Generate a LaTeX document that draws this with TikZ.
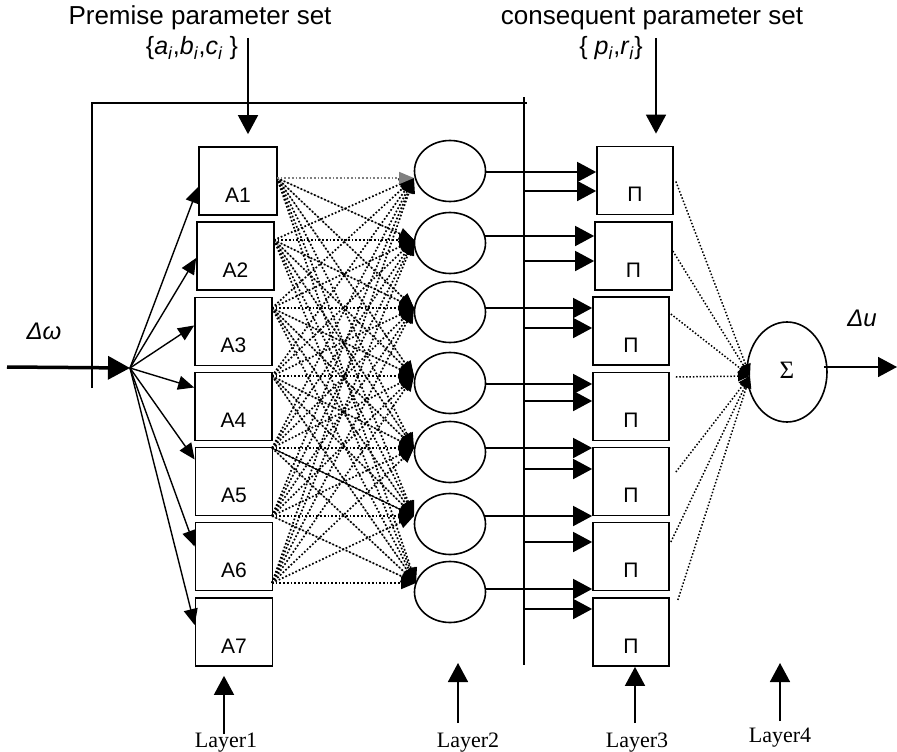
\documentclass[tikz,border=0pt]{standalone}
\usepackage{fontspec}
\setmainfont{Liberation Sans}
\newfontfamily\seriffont{Liberation Serif}
\usetikzlibrary{arrows.meta,shapes.geometric,calc}
\begin{document}
\begin{tikzpicture}[x=1pt,y=-1pt,
  box/.style={draw,line width=1.7pt,inner sep=0pt,minimum width=77pt,minimum height=68pt,
    text height=55pt,text depth=13pt,font=\fontsize{21}{21}\selectfont},
  ell/.style={draw,ellipse,line width=1.6pt,inner sep=0pt,minimum width=71pt,minimum height=61pt},
  bus/.style={line width=1.5pt},
  bigarrow/.style={line width=1.6pt,-{Triangle[length=19pt,width=20pt]}},
  fanarrow/.style={line width=1.4pt,-{Triangle[length=16pt,width=14pt]}},
  dotc/.style={line width=1.7pt,dash pattern=on 1.7pt off 2pt,-{Triangle[length=15pt,width=12pt]}},
  greyc/.style={line width=0.7pt,gray!65,-{Triangle[length=13pt,width=10pt,color=black]}},
  sumc/.style={line width=1.5pt,dash pattern=on 1.5pt off 1.9pt,-{Triangle[length=12pt,width=10pt]}},
  bigtext/.style={font=\fontsize{26}{26}\selectfont,anchor=base},
  settext/.style={font=\fontsize{25}{25}\selectfont,anchor=base},
  layertext/.style={font=\seriffont\fontsize{22}{22}\selectfont,anchor=base},
  greektext/.style={font=\fontsize{24}{24}\selectfont\itshape,anchor=base}
]
\useasboundingbox (0,0) rectangle (897,752);

% ---- texts at top
\node[bigtext] (prem) at (200,25) {Premise parameter set};
\node[settext] (premset) at (192,55) {\{\textit{a}\textsubscript{\textit{i}},\textit{b}\textsubscript{\textit{i}},\textit{c}\textsubscript{\textit{i}} \}};
\node[bigtext] (cons) at (652,25) {consequent parameter set};
\node[settext] (consset) at (611,55) {\{ \textit{p}\textsubscript{\textit{i}},\textit{r}\textsubscript{\textit{i}}\}};

% ---- layer 1 boxes
\node[box,minimum width=78pt] (A1) at (238,181) {A1\hspace{8pt}};
\node[box] (A2) at (235.5,256) {A2\hspace{8pt}};
\node[box] (A3) at (233.5,331.5) {A3\hspace{8pt}};
\node[box] (A4) at (233.5,406.5) {A4\hspace{8pt}};
\node[box] (A5) at (234,481.5) {A5\hspace{8pt}};
\node[box] (A6) at (234,556.5) {A6\hspace{8pt}};
\node[box] (A7) at (234,632) {A7\hspace{8pt}};

% ---- layer 2 ellipses
\node[ell] (E1) at (450,171) {};
\node[ell] (E2) at (450,243) {};
\node[ell] (E3) at (450,312) {};
\node[ell] (E4) at (450,383) {};
\node[ell] (E5) at (450,452) {};
\node[ell] (E6) at (450,524) {};
\node[ell] (E7) at (450,592) {};

% ---- layer 3 boxes
\node[box,minimum width=76pt] (P1) at (635,180.5) {Π\hspace{20pt}};
\node[box] (P2) at (633.5,256) {Π\hspace{20pt}};
\node[box,minimum width=76pt] (P3) at (631,331) {Π\hspace{20pt}};
\node[box,minimum width=76pt] (P4) at (631,406.5) {Π\hspace{20pt}};
\node[box,minimum width=76pt] (P5) at (631,481.5) {Π\hspace{20pt}};
\node[box,minimum width=76pt] (P6) at (631,556.5) {Π\hspace{20pt}};
\node[box,minimum width=76pt] (P7) at (631,632) {Π\hspace{20pt}};

% ---- layer 4
\node[draw,ellipse,line width=1.6pt,inner sep=0pt,minimum width=80pt,minimum height=100pt,
  font=\seriffont\fontsize{25}{25}\selectfont] (S) at (787,372) {\raisebox{4pt}{Σ}};

% ---- parameter arrows
\coordinate (premtail) at (248,38);
\coordinate (constail) at (656,38);
\draw[bigarrow] (premtail) -- ($(A1.north)+(10,-12)$);
\draw[bigarrow] (constail) -- ($(P1.north)+(21,-12)$);

% ---- bus lines
\coordinate (tl) at (92,103);
\coordinate (tr) at (527,103);
\coordinate (lb) at (92,388);
\coordinate (bt) at (524,97);
\coordinate (bb) at (524,665);
\draw[bus] (lb) -- (tl) -- (tr);
\draw[bus] (bt) -- (bb);

% ---- input
\coordinate (inp) at (7,367);
\coordinate (fan) at (130,368);
\node[greektext] (dw) at (44,339) {Δω};
\draw[line width=3.5pt,-{Triangle[length=22pt,width=23pt]}] (inp) -- (fan);
\draw[fanarrow] (fan) -- ($(A1.west)+(0,6)$);
\draw[fanarrow] (fan) -- ($(A2.west)+(0,2)$);
\draw[fanarrow] (fan) -- ($(A3.west)+(0,-6)$);
\draw[fanarrow] (fan) -- ($(A4.west)+(0,-19)$);
\draw[fanarrow] (fan) -- ($(A5.west)+(0,-22)$);
\draw[fanarrow] (fan) -- ($(A6.west)+(0,-10)$);
\draw[fanarrow] (fan) -- ($(A7.west)+(0,-7)$);

% ---- layer1 -> layer2 network
\coordinate (s1) at (277,178);
\coordinate (s2) at (274,240);
\coordinate (s3) at (272,308);
\coordinate (s4) at (272,376);
\coordinate (s5) at (272,448);
\coordinate (s6) at (272,516);
\coordinate (s7) at (272,583);
\coordinate (r1) at (414,178);
\coordinate (r2) at (414,240);
\coordinate (r3) at (414,308);
\coordinate (r4) at (414,376);
\coordinate (r5) at (414,448);
\coordinate (r6) at (414,516);
\coordinate (r7) at (416,583);
\foreach \i/\j in {1/2,1/3,1/4,2/3,2/4,2/5,3/4,3/5,3/6,4/5,4/6,4/7,5/7,6/7}{
  \draw[greyc] (s\i) -- (r\j);
}
\foreach \i in {1,...,7}{
  \foreach \j in {1,...,7}{
    \ifnum\i=\j\relax\else\draw[dotc] (s\i) -- (r\j);\fi
  }
}
\draw[dotc,gray] (s1) -- (r1);
\foreach \i in {2,...,7}{\draw[dotc] (s\i) -- (r\i);}
\coordinate (a5c) at (272,448);
\draw[line width=1pt,-{Triangle[length=13pt,width=11pt]}] (a5c) -- (r6);

% ---- layer2 -> layer3
\coordinate (e1) at (485,172);
\coordinate (e2) at (485,236);
\coordinate (e3) at (485,308);
\coordinate (e4) at (485,384);
\coordinate (e5) at (485,448);
\coordinate (e6) at (485,516);
\coordinate (e7) at (485,589);
\coordinate (b1) at (524,191);
\coordinate (b2) at (524,261);
\coordinate (b3) at (524,328);
\coordinate (b4) at (524,401);
\coordinate (b5) at (524,469);
\coordinate (b6) at (524,542);
\coordinate (b7) at (524,609);
\foreach \k in {1,...,7}{
  \draw[bigarrow] (e\k) -- (e\k -| P\k.west);
  \draw[bigarrow] (b\k) -- (b\k -| P\k.west);
}

% ---- layer3 -> sum
\coordinate (sin) at (750,376);
\draw[sumc] ($(P1.east)+(2,1)$) -- (sin);
\draw[sumc] ($(P2.east)+(0,-5)$) -- (sin);
\draw[sumc] ($(P3.east)+(1,-17)$) -- (sin);
\draw[sumc] ($(P4.east)+(6,-29.5)$) -- (sin);
\draw[sumc] ($(P5.east)+(6,-9.5)$) -- (sin);
\draw[sumc] ($(P6.east)+(1,-14.5)$) -- (sin);
\draw[sumc] ($(P7.east)+(8,-32)$) -- (sin);

% ---- output
\coordinate (out) at (897,367);
\node[greektext] (du) at (862,326) {Δu};
\draw[bigarrow] ($(S.east)+(-4,-5)$) -- (out);

% ---- layer labels
\node[layertext] (L1) at (226,747) {Layer1};
\node[layertext] (L2) at (468,747) {Layer2};
\node[layertext] (L3) at (637,747) {Layer3};
\node[layertext] (L4) at (780,742) {Layer4};
\coordinate (l1tail) at (224,734);
\coordinate (l2tail) at (458,723);
\coordinate (l2tip) at (458,663);
\coordinate (l3tail) at (635,723);
\coordinate (l4tail) at (780,721);
\coordinate (l4tip) at (780,663);
\draw[bigarrow] (l1tail) -- ($(A7.south)+(-10,9)$);
\draw[bigarrow] (l2tail) -- (l2tip);
\draw[bigarrow] (l3tail) -- ($(P7.south)+(4,0)$);
\draw[bigarrow] (l4tail) -- (l4tip);
\end{tikzpicture}
\end{document}
